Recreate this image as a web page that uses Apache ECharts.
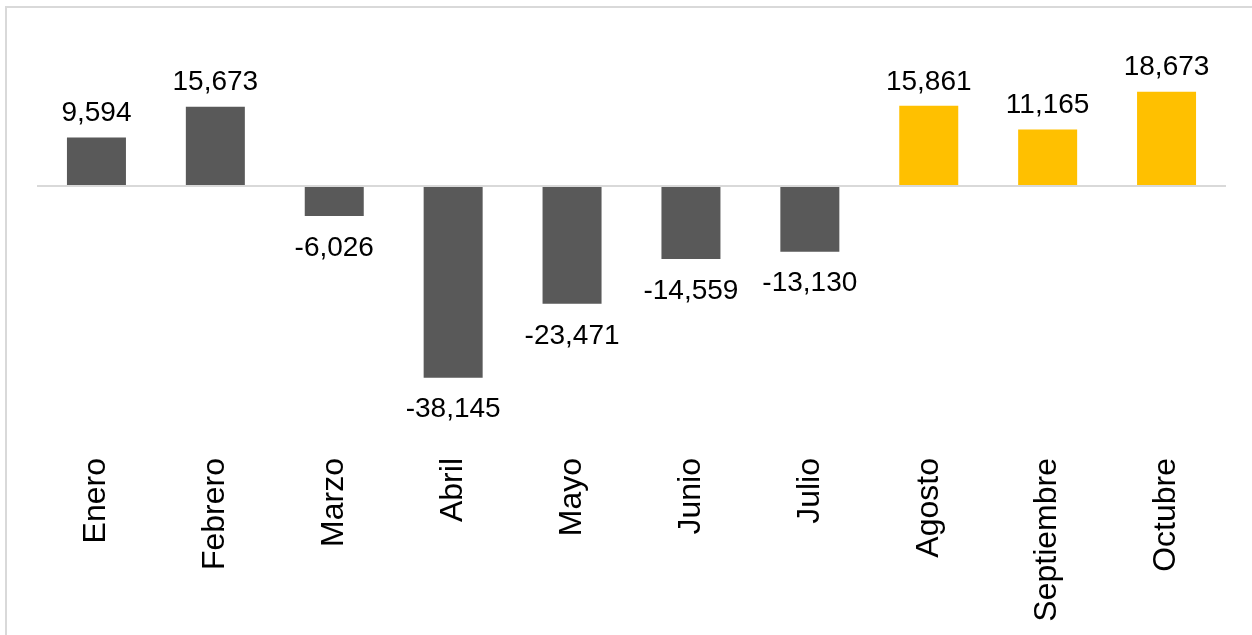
<!DOCTYPE html>
<html>
<head>
<meta charset="utf-8">
<script src="https://cdn.jsdelivr.net/npm/echarts@6/dist/echarts.min.js"></script>
<style>
  html, body { margin: 0; padding: 0; background: #fff; }
  #main { width: 1252px; height: 635px; }
</style>
</head>
<body>
<div id="main"></div>
<script>
// meses y variación
var meses = ['Enero', 'Febrero', 'Marzo', 'Abril', 'Mayo', 'Junio', 'Julio', 'Agosto', 'Septiembre', 'Octubre']
var valores = [9594, 15673, -6026, -38145, -23471, -14559, -13130, 15861, 11165, 18673]
var destacados = ['Agosto', 'Septiembre', 'Octubre']

var gris = '#595959'
var amarillo = '#FFC000'
var fuente = '"Liberation Sans", Arial, sans-serif'

var datos = valores.map(function (v, i) {
    return {
        value: v,
        itemStyle: { color: destacados.indexOf(meses[i]) >= 0 ? amarillo : gris },
        label: v >= 0 ? { position: 'top', distance: 10 } : { position: 'bottom', distance: 18 }
    }
})

var myChart = echarts.init(document.getElementById('main'))
myChart.setOption({
    animation: false,
    backgroundColor: '#fff',
    // marco del gráfico
    graphic: [{
        type: 'rect',
        shape: { x: 6, y: 7, width: 1400, height: 800 },
        style: { fill: 'none', stroke: '#d9d9d9', lineWidth: 2 },
        silent: true
    }],
    grid: { left: 37, right: 26, top: 85, height: 302 },
    xAxis: {
        type: 'category',
        data: meses,
        axisLine: { show: false, onZero: false },
        axisTick: { show: false },
        axisLabel: {
            rotate: 90,
            margin: 71,
            fontSize: 32,
            fontFamily: fuente,
            color: '#000',
            interval: 0
        }
    },
    yAxis: {
        type: 'value',
        min: -40000,
        max: 20000,
        show: false
    },
    series: [{
        type: 'bar',
        data: datos,
        barWidth: 59,
        label: {
            show: true,
            fontSize: 28,
            fontFamily: fuente,
            color: '#000',
            formatter: function (p) { return p.value.toLocaleString('en-US') }
        },
        markLine: {
            silent: true,
            symbol: 'none',
            label: { show: false },
            lineStyle: { color: '#d9d9d9', width: 2, type: 'solid' },
            data: [{ yAxis: 0 }]
        }
    }]
})
</script>
</body>
</html>
